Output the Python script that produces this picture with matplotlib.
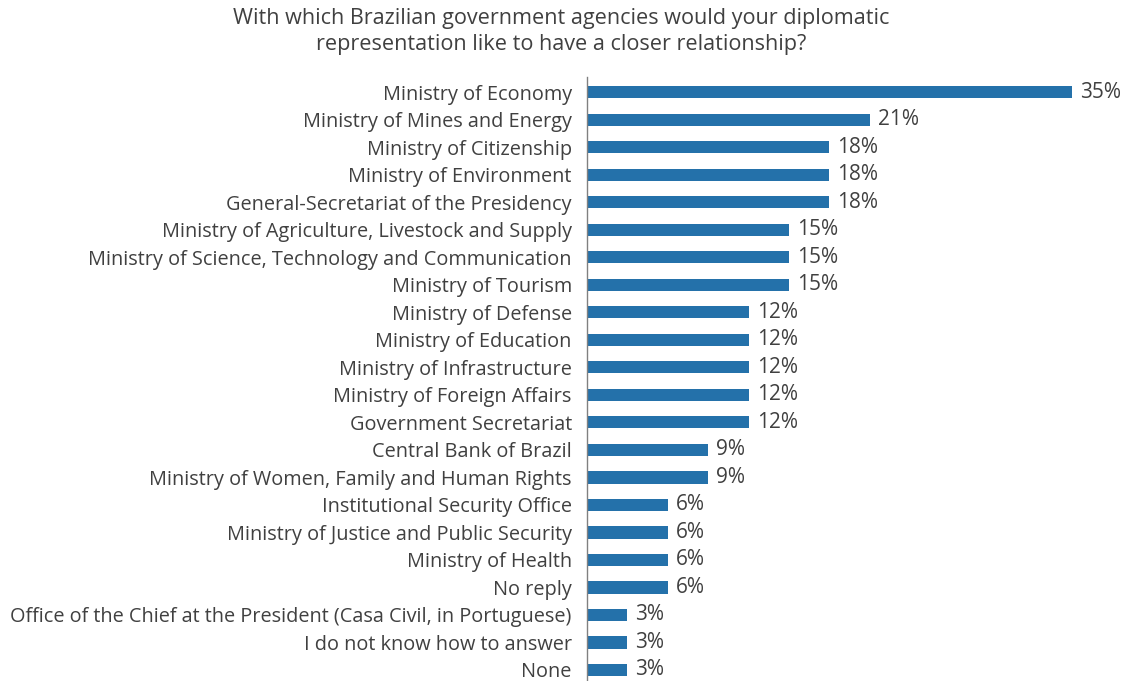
import matplotlib
matplotlib.use("Agg")
import matplotlib.pyplot as plt

# survey answers, top to bottom
agencies = [
    "Ministry of Economy",
    "Ministry of Mines and Energy",
    "Ministry of Citizenship",
    "Ministry of Environment",
    "General-Secretariat of the Presidency",
    "Ministry of Agriculture, Livestock and Supply",
    "Ministry of Science, Technology and Communication",
    "Ministry of Tourism",
    "Ministry of Defense",
    "Ministry of Education",
    "Ministry of Infrastructure",
    "Ministry of Foreign Affairs",
    "Government Secretariat",
    "Central Bank of Brazil",
    "Ministry of Women, Family and Human Rights",
    "Institutional Security Office",
    "Ministry of Justice and Public Security",
    "Ministry of Health",
    "No reply",
    "Office of the Chief at the President (Casa Civil, in Portuguese)",
    "I do not know how to answer",
    "None",
]
shares = [35.3, 20.6, 17.6, 17.6, 17.6, 14.7, 14.7, 14.7, 11.8, 11.8, 11.8,
          11.8, 11.8, 8.8, 8.8, 5.9, 5.9, 5.9, 5.9, 2.9, 2.9, 2.9]

title = ("With which Brazilian government agencies would your diplomatic\n"
         "representation like to have a closer relationship?")

plt.rcParams['font.family'] = ['Open Sans', 'DejaVu Sans']
text_col = '#404040'
bar_col = '#2471AA'

fig = plt.figure(figsize=(11.29, 6.81), dpi=100)
ax = fig.add_axes([0.52, 0.0, 0.48, 0.887])

ypos = list(range(len(agencies)))
ax.barh(ypos, shares, height=0.44, color=bar_col)
for y, v in zip(ypos, shares):
    ax.text(v + 0.6, y, f"{v:.0f}%", va='center', ha='left',
            fontsize=15, color=text_col)

ax.set_yticks(ypos)
ax.set_yticklabels(agencies, fontsize=14.3, color=text_col)
ax.tick_params(axis='y', length=0, pad=11)
ax.set_ylim(len(agencies) - 0.6, -0.56)
ax.set_xlim(0, 39.45)
ax.set_xticks([])
for s in ['top', 'right', 'bottom']:
    ax.spines[s].set_visible(False)
ax.spines['left'].set_color('#808080')
ax.spines['left'].set_linewidth(1.0)

fig.text(0.497, 0.988, title, ha='center', va='top', fontsize=15.6,
         color=text_col, linespacing=1.3)

fig.savefig('out.png', dpi=100)
